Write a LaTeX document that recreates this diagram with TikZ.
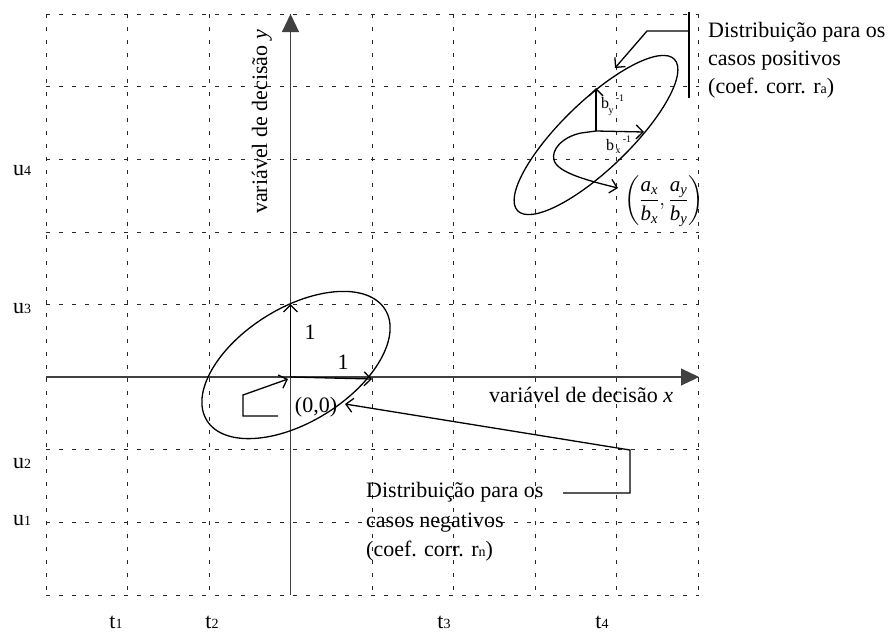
\documentclass[tikz,border=0pt]{standalone}
\usepackage{amsmath}
\usepackage{fontspec}
\setmainfont{Liberation Serif}
\usetikzlibrary{arrows.meta}
\tikzset{
  gridline/.style={draw=black!85, line width=0.6pt, dash pattern=on 4pt off 9pt},
  axisline/.style={draw=black!75, line width=1.1pt, -{Triangle[length=18pt,width=17pt]}},
  curve/.style={draw=black, line width=1.3pt},
  barb/.style={-{Straight Barb[length=7pt,width=14pt]}},
  lbl/.style={font=\fontsize{22}{28}\selectfont, inner sep=0pt},
  small/.style={font=\fontsize{16}{16}\selectfont, inner sep=0pt},
  tiny/.style={font=\fontsize{10}{10}\selectfont, inner sep=0pt}
}
\newcommand{\sm}[1]{{\fontsize{14}{14}\selectfont #1}}
\begin{document}
\begin{tikzpicture}[x=1pt,y=1pt]
\useasboundingbox (0,0) rectangle (890,-635);
% grid
\foreach \i in {0,...,8}{
  \draw[gridline] ({46+81.5*\i},-14) -- ({46+81.5*\i},-595);
  \draw[gridline] (46,{-14-72.6*\i}) -- (699,{-14-72.6*\i});
}
% axes
\coordinate (O) at (290.5,-377);
\coordinate (xs) at (46,-377);
\coordinate (xe) at (699,-377);
\coordinate (ys) at (290.5,-595);
\coordinate (ye) at (290.5,-14);
\draw[axisline] (xs) -- (xe);
\draw[axisline] (ys) -- (ye);
\node[lbl, anchor=base west] (xlab) at (489,-402) {variável de decisão \textit{x}};
\node[lbl, rotate=90, anchor=base] (ylab) at (267,-122) {variável de decisão \textit{y}};
% axis tick labels
\node[lbl, anchor=base] (u4) at (22,-175) {u\sm{4}};
\node[lbl, anchor=base] (u3) at (22,-313) {u\sm{3}};
\node[lbl, anchor=base] (u2) at (22,-468) {u\sm{2}};
\node[lbl, anchor=base] (u1) at (22,-525) {u\sm{1}};
\node[lbl, anchor=base] (t1) at (116,-628) {t\sm{1}};
\node[lbl, anchor=base] (t2) at (212,-628) {t\sm{2}};
\node[lbl, anchor=base] (t3) at (444,-628) {t\sm{3}};
\node[lbl, anchor=base] (t4) at (602,-628) {t\sm{4}};
% lower distribution
\draw[curve, rotate around={31.9:(296,-365)}] (296,-365) ellipse [x radius=105, y radius=57];
\coordinate (uy) at (290.5,-304);
\coordinate (ux) at (372,-379);
\draw[curve, barb] (O) -- (uy);
\draw[curve, barb] (O) -- (ux);
\node[lbl, anchor=center] (one1) at (310,-332) {1};
\node[lbl, anchor=center] (one2) at (343,-362) {1};
\node[lbl, anchor=center] (zero) at (316,-407) {(0,0)};
\coordinate (z1) at (278,-416);
\coordinate (z2) at (243,-416);
\coordinate (z3) at (243,-395);
\coordinate (z4) at (288,-379);
\draw[curve, barb] (z1) -- (z2) -- (z3) -- (z4);
% lower callout
\node[lbl, anchor=base west] (n1) at (366,-497) {Distribuição para os};
\node[lbl, anchor=base west] (n2) at (366,-527) {casos negativos};
\node[lbl, anchor=base west] (n3) at (366,-556) {(coef. corr. r\sm{n})};
\coordinate (c1) at (563,-493);
\coordinate (c2) at (630,-493);
\coordinate (c3) at (630,-450);
\coordinate (c4) at (345,-404);
\draw[curve, barb] (c1) -- (c2) -- (c3) -- (c4);
% upper distribution
\draw[curve, rotate around={44:(596,-135)}] (596,-135) ellipse [x radius=109, y radius=34];
\coordinate (C) at (596,-131);
\coordinate (by) at (596,-88);
\coordinate (bx) at (644,-132);
\draw[curve, barb] (C) -- (by);
\draw[curve, barb] (C) -- (bx);
\node[small] (byb) at (605,-103) {b};
\node[tiny] (byy) at (611,-112) {y};
\node[tiny] (bye) at (620,-98) {-1};
\node[small] (bxb) at (610,-145) {b};
\node[tiny] (bxx) at (618,-151) {x};
\node[tiny] (bxe) at (627,-139) {-1};
\coordinate (s1) at (581,-133);
\coordinate (s2) at (554,-160);
\coordinate (s3) at (618,-188);
\draw[curve, barb] (C) -- (s1) .. controls (562,-137) and (551,-150) .. (s2) .. controls (557,-172) and (585,-180) .. (s3);
\node[font=\fontsize{21}{21}\selectfont, inner sep=0pt] (frac) at (664,-201)
  {$\left(\dfrac{\textit{a}_{\textit{x}}}{\textit{b}_{\textit{x}}},\dfrac{\textit{a}_{\textit{y}}}{\textit{b}_{\textit{y}}}\right)$};
% upper callout
\node[lbl, anchor=base west] (p1) at (708,-37) {Distribuição para os};
\node[lbl, anchor=base west] (p2) at (708,-65) {casos positivos};
\node[lbl, anchor=base west] (p3) at (708,-93) {(coef. corr. r\sm{a})};
\coordinate (v1) at (689,-12);
\coordinate (v2) at (689,-98);
\coordinate (h1) at (689,-31);
\coordinate (h2) at (647,-31);
\coordinate (h3) at (615,-68);
\draw[curve] (v1) -- (v2);
\draw[curve, barb] (h1) -- (h2) -- (h3);
\end{tikzpicture}
\end{document}
